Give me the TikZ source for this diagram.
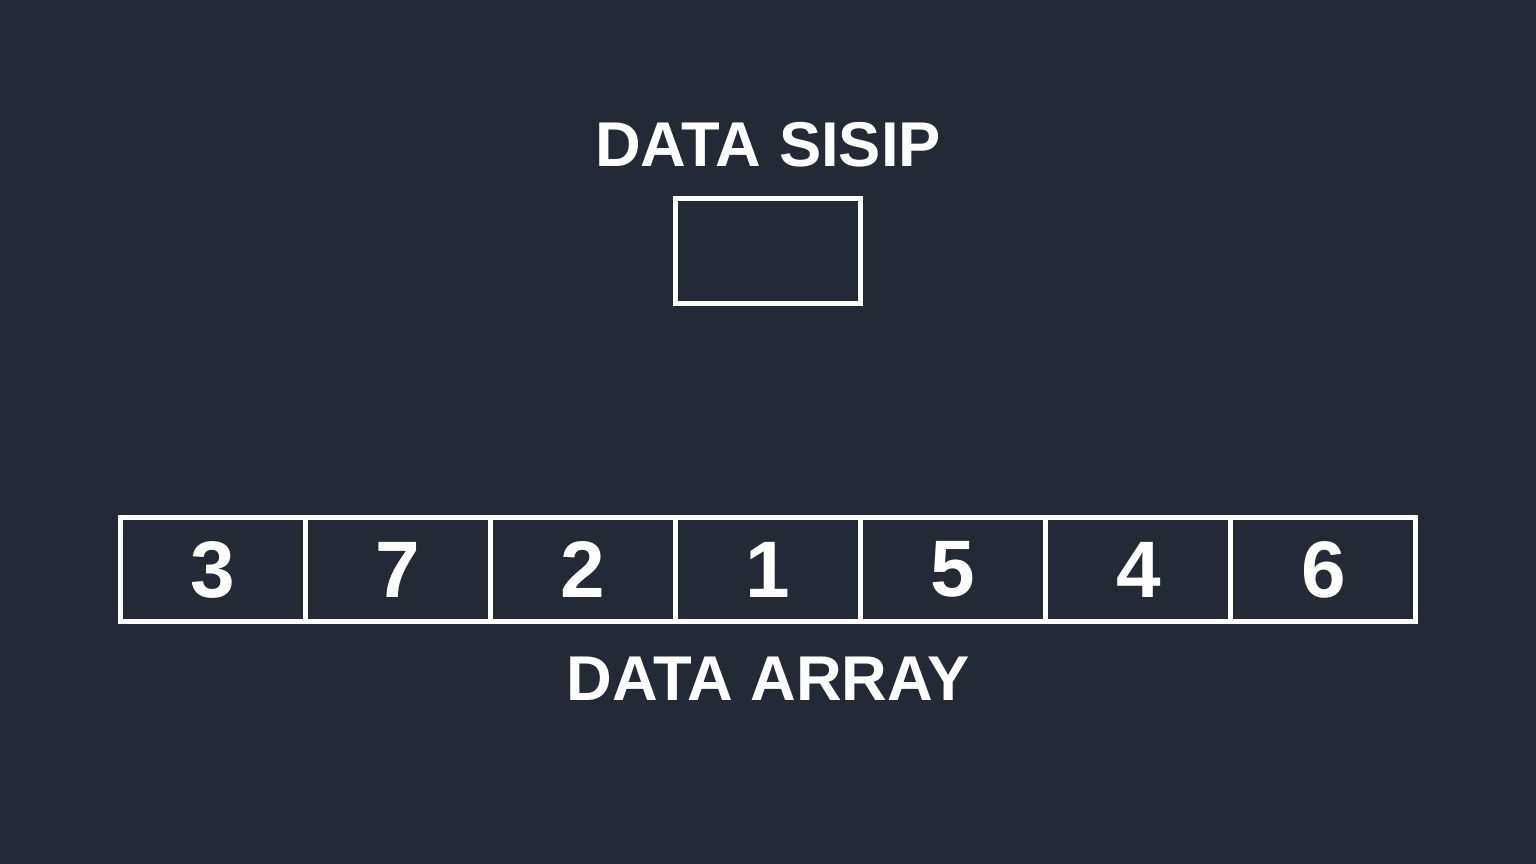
\documentclass[tikz,border=0pt]{standalone}
\usepackage{fontspec}
\setmainfont{Liberation Sans}
\usepackage{xcolor}
\usepackage{tikz}
\definecolor{cnavy}{HTML}{232935}
\definecolor{cwhite}{HTML}{FFFFFF}

\begin{document}
\begin{tikzpicture}[
		cell/.style={draw=cwhite, line width=1.42pt, minimum width=1.851cm, minimum height=1.04cm, inner sep=0pt, text=cwhite, font=\bfseries\fontsize{22.8}{26}\selectfont},
		title/.style={text=cwhite, inner sep=0pt, font=\bfseries\fontsize{18}{21}\selectfont}
	]
			\fill[cnavy] (0,0) rectangle (15.36,8.64);

			\node[title] (sisiptitle) at (7.68, 7.19) {DATA SISIP};
			\node[cell, minimum width=1.85cm, minimum height=1.05cm] (sisip) at (7.68, 6.125) {};

			\node[cell] (c1) at (2.126, 2.945) {3};
			\node[cell] (c2) at (3.977, 2.945) {7};
			\node[cell] (c3) at (5.829, 2.945) {2};
			\node[cell] (c4) at (7.680, 2.945) {1};
			\node[cell] (c5) at (9.531, 2.945) {5};
			\node[cell] (c6) at (11.383, 2.945) {4};
			\node[cell] (c7) at (13.234, 2.945) {6};

			\node[title] (arraytitle) at (7.68, 1.85) {DATA ARRAY};
		\end{tikzpicture}
\end{document}
